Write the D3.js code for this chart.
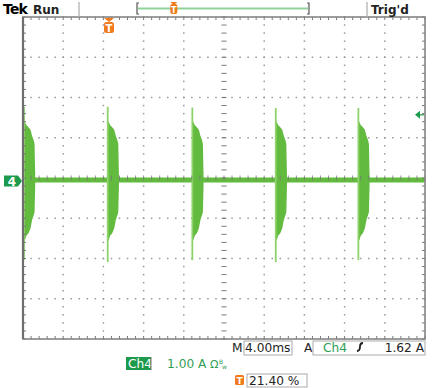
<!DOCTYPE html>
<html><head><meta charset="utf-8">
<script src="https://cdn.jsdelivr.net/npm/d3@7"></script>
<style>body{margin:0;background:#fff}svg{display:block}text{font-family:"DejaVu Sans",sans-serif}</style>
</head><body><svg id="c" width="441" height="388"></svg>
<script>
const timePerDivMs = 4;          // M 4.00ms
const ampPerDiv = 1.0;           // Ch4 1.00 A
const divsX = 10, divsY = 8;
const ch4OffsetDiv = -0.05;      // zero level slightly below centre
const burstStarts = [0.1, 8.43, 16.85, 25.15, 33.37];        // ms
const burstPeakTop = [1.82, 1.82, 1.80, 1.79, 1.79];         // A
const burstPeakBottom = [-1.99, -2.04, -1.99, -2.04, -1.99]; // A
const envOffsets = [0, 0.1, 0.25, 0.45, 0.65, 0.8, 0.95, 1.05, 1.12]; // ms after start
const envTop =    [1.46, 1.44, 1.36, 1.31, 1.25, 1.1, 1.0, 0.9, 0.05];
const envBottom = [-1.52, -1.49, -1.38, -1.32, -1.2, -1.0, -0.88, -0.8, -0.1];
const triggerLevelA = 1.62;
const triggerPosPct = 21.40;
const labels = {tek:"Tek", run:"Run", trig:"Trig'd", m:"M", time:"4.00ms", src:"A", ch:"Ch4", level:"1.62 A", scale:"1.00 A", pct:"21.40 %"};

// ---- layout ----
const svg = d3.select("#c");
const L = 23, R = 425, T = 17, B = 339;
const x = d3.scaleLinear().domain([0, divsX * timePerDivMs]).range([L, R]);
const yDiv = d3.scaleLinear().domain([-divsY/2, divsY/2]).range([B, T]);
const yA = v => yDiv(v / ampPerDiv + ch4OffsetDiv);
const green = "#62bb3f", lightGreen = "#8fd26b", dark = "#1d9a4c", orange = "#f07a1c", grid = "#999";

// graticule dots
const g = svg.append("g");
const minorX = d3.range(0, divsX * 5 + 1).map(k => k / 5);
const minorY = d3.range(0, divsY * 5 + 1).map(k => k / 5 - divsY/2);
d3.range(1, divsX).filter(i => i !== divsX/2).forEach(i => {
  minorY.forEach(v => g.append("rect").attr("x", x(i*timePerDivMs)-0.75).attr("y", yDiv(v)-0.75).attr("width",1.5).attr("height",1.5).attr("fill",grid));
});
d3.range(1, divsY).map(j => j - divsY/2).filter(j => j !== 0).forEach(j => {
  minorX.forEach(u => g.append("rect").attr("x", x(u*timePerDivMs)-0.75).attr("y", yDiv(j)-0.75).attr("width",1.5).attr("height",1.5).attr("fill",grid));
});

// trace baseline
const tr = svg.append("g");
tr.append("line").attr("x1", x(0)).attr("x2", x(divsX*timePerDivMs)).attr("y1", yA(0)).attr("y2", yA(0))
  .attr("stroke", green).attr("stroke-width", 5);
// bursts
const area = d3.area().x(d => x(d.t)).y0(d => yA(d.lo)).y1(d => yA(d.hi));
burstStarts.forEach((s, bi) => {
  const pts = envOffsets.map((o, k) => ({t: s + o, hi: envTop[k], lo: envBottom[k]}));
  tr.append("path").attr("d", area(pts)).attr("fill", green);
  tr.append("line").attr("x1", x(s)).attr("x2", x(s)).attr("y1", yA(burstPeakTop[bi])).attr("y2", yA(burstPeakBottom[bi]))
    .attr("stroke", lightGreen).attr("stroke-width", 1.8);
});

// centre axes with ticks
const ax = svg.append("g").attr("stroke", "#777").attr("stroke-width", 1);
minorX.forEach(u => ax.append("line").attr("x1", x(u*timePerDivMs)).attr("x2", x(u*timePerDivMs)).attr("y1", yDiv(0)-2.5).attr("y2", yDiv(0)+2.5).attr("stroke-opacity", 0.8));
minorY.forEach(v => ax.append("line").attr("x1", x(divsX/2*timePerDivMs)-2.5).attr("x2", x(divsX/2*timePerDivMs)+2.5).attr("y1", yDiv(v)).attr("y2", yDiv(v)));
// border ticks
minorX.forEach(u => {
  ax.append("line").attr("x1", x(u*timePerDivMs)).attr("x2", x(u*timePerDivMs)).attr("y1", T).attr("y2", T+3);
  ax.append("line").attr("x1", x(u*timePerDivMs)).attr("x2", x(u*timePerDivMs)).attr("y1", B).attr("y2", B-3);
});
minorY.forEach(v => {
  ax.append("line").attr("x1", L).attr("x2", L+3).attr("y1", yDiv(v)).attr("y2", yDiv(v));
  ax.append("line").attr("x1", R).attr("x2", R-3).attr("y1", yDiv(v)).attr("y2", yDiv(v));
});
// border
svg.append("rect").attr("x", L).attr("y", T).attr("width", R-L).attr("height", B-T).attr("fill","none").attr("stroke","#858585").attr("stroke-width",1.6);
svg.append("line").attr("x1", L).attr("x2", L).attr("y1", T).attr("y2", B).attr("stroke","#6e6e6e").attr("stroke-width",2.2);

// header
svg.append("text").attr("x", 3).attr("y", 14).attr("font-size", 14).attr("font-weight","bold").attr("letter-spacing",-0.8).text(labels.tek);
svg.append("text").attr("x", 33).attr("y", 13.5).attr("font-size", 12).attr("font-weight","bold").attr("fill","#222").text(labels.run);
svg.append("line").attr("x1", 79).attr("x2", 79).attr("y1", 2).attr("y2", T).attr("stroke","#aaa").attr("stroke-width",1.2);
svg.append("line").attr("x1", 367).attr("x2", 367).attr("y1", 2).attr("y2", T).attr("stroke","#aaa").attr("stroke-width",1.2);
svg.append("text").attr("x", 371).attr("y", 13.5).attr("font-size", 12).attr("font-weight","bold").attr("fill","#222").text(labels.trig);
// record bar
const rbL = 137, rbR = 309;
svg.append("line").attr("x1", rbL+1).attr("x2", rbR-1).attr("y1", 8.5).attr("y2", 8.5).attr("stroke", "#8fd29c").attr("stroke-width", 2);
svg.append("path").attr("d", `M${rbL+2},3 H${rbL} V14 H${rbL+2} M${rbR-2},3 H${rbR} V14 H${rbR-2}`).attr("fill","none").attr("stroke","#555").attr("stroke-width",1.2);
const rbT = rbL + (rbR - rbL) * triggerPosPct / 100;
svg.append("rect").attr("x", rbT-3.5).attr("y", 4).attr("width", 7).attr("height", 10).attr("rx", 2).attr("fill", orange);
svg.append("path").attr("d", `M${rbT-3.5},2 H${rbT+3.5} L${rbT},5 Z`).attr("fill", orange);
svg.append("text").attr("x", rbT).attr("y", 12.5).attr("text-anchor","middle").attr("font-size", 8).attr("font-weight","bold").attr("fill","#fff").text("T");

// trigger position marker inside graticule
const tx = x(triggerPosPct / 100 * divsX * timePerDivMs);
svg.append("path").attr("d", `M${tx-5},${T+1} H${tx+5} L${tx},${T+5} Z`).attr("fill", orange);
svg.append("rect").attr("x", tx-5).attr("y", T+5).attr("width", 10).attr("height", 11).attr("rx", 2.5).attr("fill", orange);
svg.append("text").attr("x", tx).attr("y", T+14.5).attr("text-anchor","middle").attr("font-size", 10).attr("font-weight","bold").attr("fill","#fff").text("T");

// channel marker
const cy = yA(0) + 1;
svg.append("path").attr("d", `M4,${cy-5.5} H18 L22,${cy} L18,${cy+5.5} H4 Z`).attr("fill", dark);
svg.append("text").attr("x", 12).attr("y", cy+4.5).attr("text-anchor","middle").attr("font-size", 12).attr("font-weight","bold").attr("fill","#fff").text("4");
// trigger level arrow
const ty = yA(triggerLevelA);
svg.append("path").attr("d", `M415,${ty} L420,${ty-4} L420,${ty+4} Z`).attr("fill", dark);
svg.append("line").attr("x1", 419).attr("x2", 424).attr("y1", ty).attr("y2", ty).attr("stroke", dark).attr("stroke-width", 1.2);

// bottom readouts
const fs = 12.2;
svg.append("text").attr("x", 232).attr("y", 352).attr("font-size", fs).attr("fill","#222").text(labels.m);
svg.append("rect").attr("x", 244).attr("y", 341).attr("width", 48).attr("height", 14).attr("fill","none").attr("stroke","#aaa");
svg.append("text").attr("x", 245).attr("y", 352).attr("font-size", fs).attr("fill","#222").text(labels.time);
svg.append("text").attr("x", 304).attr("y", 352).attr("font-size", fs).attr("fill","#222").text(labels.src);
svg.append("rect").attr("x", 313).attr("y", 341).attr("width", 112).attr("height", 14).attr("fill","none").attr("stroke","#aaa");
svg.append("text").attr("x", 323).attr("y", 352).attr("font-size", fs).attr("fill", "#2f9e55").text(labels.ch);
svg.append("path").attr("d", "M357,351 Q360,351 360,346.5 Q360,343 363,343").attr("fill","none").attr("stroke","#222").attr("stroke-width",1.8);
svg.append("text").attr("x", 424).attr("y", 352).attr("text-anchor","end").attr("font-size", fs).attr("fill","#222").text(labels.level);

svg.append("rect").attr("x", 126).attr("y", 357).attr("width", 25).attr("height", 13).attr("fill", dark);
svg.append("text").attr("x", 128).attr("y", 368).attr("font-size", fs).attr("fill","#fff").text(labels.ch);
svg.append("line").attr("x1", 151).attr("x2", 151).attr("y1", 357).attr("y2", 370).attr("stroke","#777");
svg.append("text").attr("x", 167).attr("y", 368).attr("font-size", fs).attr("fill", "#2f9e55").text(labels.scale);
svg.append("text").attr("x", 210).attr("y", 368).attr("font-size", 11).attr("fill", "#2f9e55").text("Ω");
svg.append("text").attr("x", 219).attr("y", 364).attr("font-size", 6).attr("fill", "#2f9e55").text("B");
svg.append("text").attr("x", 222).attr("y", 369).attr("font-size", 6).attr("fill", "#2f9e55").text("w");

svg.append("rect").attr("x", 235).attr("y", 375).attr("width", 9).attr("height", 10).attr("rx", 1.5).attr("fill", orange);
svg.append("text").attr("x", 239.5).attr("y", 383.5).attr("text-anchor","middle").attr("font-size", 9).attr("font-weight","bold").attr("fill","#fff").text("T");
svg.append("rect").attr("x", 247).attr("y", 374).attr("width", 60).attr("height", 13).attr("fill","none").attr("stroke","#aaa");
svg.append("text").attr("x", 249).attr("y", 385).attr("font-size", fs).attr("fill","#222").text(labels.pct);
</script></body></html>
